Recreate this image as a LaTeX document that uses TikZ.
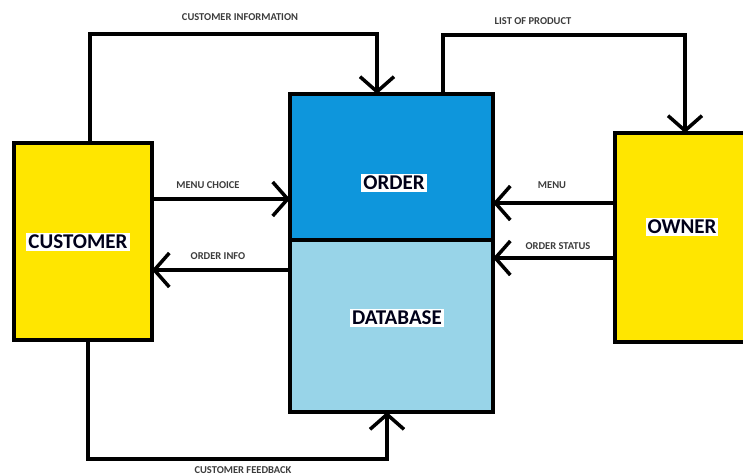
\documentclass[tikz,border=0pt]{standalone}
\usepackage{fontspec}
\setmainfont{Carlito}
\usetikzlibrary{arrows.meta,positioning}
\definecolor{boxyellow}{RGB}{255,230,0}
\definecolor{orderblue}{RGB}{14,150,220}
\definecolor{dbblue}{RGB}{152,212,232}
\definecolor{labelgray}{RGB}{60,60,60}
\begin{document}
\begin{tikzpicture}[x=1pt,y=-1pt,
  box/.style={draw=black,line width=4pt,rectangle,inner sep=0pt,outer sep=0pt},
  bigtext/.style={fill=white,inner sep=2pt,font=\bfseries\fontsize{21}{21}\selectfont,text=black!90!blue},
  flowlabel/.style={inner sep=0pt,font=\bfseries\fontsize{10.5}{10.5}\selectfont,text=labelgray},
  arr/.style={line width=3.5pt,-{Straight Barb[length=15pt,width=34pt,line width=3.5pt]}}]
\useasboundingbox (0,0) rectangle (743,475);
% boxes
\node[box,fill=boxyellow,minimum width=138pt,minimum height=197pt] (customer) at (83,241) {};
\node[box,fill=orderblue,minimum width=203pt,minimum height=146pt] (order) at (391.5,167) {};
\node[box,fill=dbblue,minimum width=203pt,minimum height=172pt] (database) at (391.5,326) {};
\node[box,fill=boxyellow,minimum width=134pt,minimum height=209pt] (owner) at (682,237.5) {};
% big labels
\node[bigtext] (customerlabel) at (78,242) {CUSTOMER};
\node[bigtext] (orderlabel) at (394,183) {ORDER};
\node[bigtext] (databaselabel) at (397,318) {DATABASE};
\node[bigtext] (ownerlabel) at (682,227) {OWNER};
% connectors
\draw[arr] (customer.north -| 90,0) |- (377,34) -- (order.north -| 377,0);
\draw[arr] (order.north -| 443,0) |- (685,35) -- (owner.north -| 685,0);
\draw[arr] (customer.east |- 0,199) -- (order.west |- 0,199);
\draw[arr] (database.west |- 0,270) -- (customer.east |- 0,270);
\draw[arr] (owner.west |- 0,203) -- (order.east |- 0,203);
\draw[arr] (owner.west |- 0,258) -- (database.east |- 0,258);
\draw[arr] (customer.south -| 88,0) |- (387,459) -- (database.south -| 387,0);
% flow labels
\node[flowlabel] (l1) at (240,17) {CUSTOMER INFORMATION};
\node[flowlabel] (l2) at (533,21) {LIST OF PRODUCT};
\node[flowlabel] (l3) at (208,185) {MENU CHOICE};
\node[flowlabel] (l4) at (218,256) {ORDER INFO};
\node[flowlabel] (l5) at (552,185) {MENU};
\node[flowlabel] (l6) at (558,246) {ORDER STATUS};
\node[flowlabel] (l7) at (243,470) {CUSTOMER FEEDBACK};
\end{tikzpicture}
\end{document}
